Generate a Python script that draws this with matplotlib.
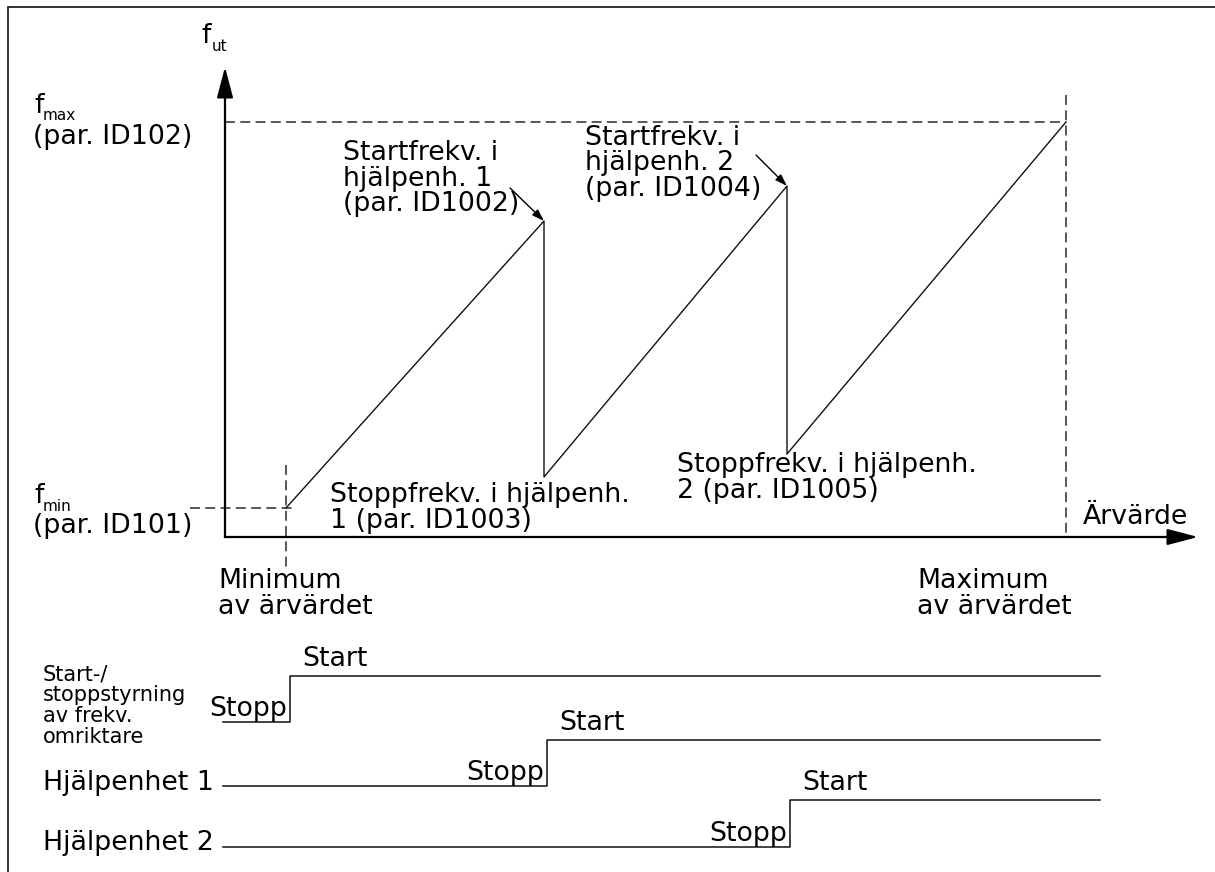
import matplotlib
matplotlib.use("Agg")
import matplotlib.pyplot as plt

plt.rcParams['font.family'] = ['DejaVu Sans']

# diagram positions (pixels, y grows downwards)
origin = (225, 537)
y_axis_top = 67
x_axis_end = 1198

f_max_y = 122
f_min_y = 508
x_min = 286
x_max = 1066

# output frequency curve: start at fmin, ramp up, drop when an aux drive starts
ramp_x = [286, 544, 544, 787, 787, 1066]
ramp_y = [508, 221, 477, 186, 454, 122]

# start/stop signals
sig_names = ["Start-/\nstoppstyrning\nav frekv.\nomriktare", "Hjälpenhet 1", "Hjälpenhet 2"]
sig_x0 = [223, 223, 223]
sig_step_x = [290, 547, 790]
sig_low = [722, 786, 847]
sig_high = [676, 740, 800]
sig_x1 = 1100

FS = 19.3
INK = '#111111'
AX = '#444444'

fig = plt.figure(figsize=(12.15, 8.72), dpi=100)
ax = fig.add_axes([0, 0, 1, 1])
ax.set_xlim(0, 1215)
ax.set_ylim(872, 0)
ax.axis('off')

# frame (cut at the right and bottom edge)
ax.plot([8, 8, 1215], [872, 7.5, 7.5], color=INK, lw=1.2, solid_joinstyle='miter')

# axes with arrow heads
arrow = dict(arrowstyle='-|>,head_length=0.95,head_width=0.25', mutation_scale=20,
             color='black', lw=1.5, shrinkA=0, shrinkB=0)
ax.annotate('', xy=(origin[0], y_axis_top), xytext=(origin[0], origin[1]), arrowprops=arrow)
ax.annotate('', xy=(x_axis_end, origin[1]), xytext=(origin[0], origin[1]), arrowprops=arrow)
ax.plot([origin[0], origin[0]], [origin[1], 90], color=AX, lw=1.6)
ax.plot([origin[0], 1175], [origin[1], origin[1]], color=AX, lw=1.6)

# guide lines
dash = dict(color='#2a2a2a', lw=1.1, dashes=(6.5, 3.5))
ax.plot([origin[0], x_max], [f_max_y, f_max_y], **dash)
ax.plot([x_max, x_max], [95, origin[1]], **dash)
ax.plot([190, 292], [f_min_y, f_min_y], **dash)
ax.plot([x_min, x_min], [465, 568], **dash)

# ramp
ax.plot(ramp_x, ramp_y, color=INK, lw=1.0)

# little arrows to the start frequencies
small = dict(arrowstyle='-|>,head_length=0.6,head_width=0.2', mutation_scale=12,
             color='black', lw=1.0, shrinkA=0, shrinkB=0)
ax.annotate('', xy=(ramp_x[1], ramp_y[1]), xytext=(510, 188), arrowprops=small)
ax.annotate('', xy=(ramp_x[3], ramp_y[3]), xytext=(756, 155), arrowprops=small)

# axis labels
ax.text(201, 43, 'f', fontsize=FS, va='baseline')
ax.text(212, 51, 'ut', fontsize=11, va='baseline')
ax.text(34, 113, 'f', fontsize=FS, va='baseline')
ax.text(43, 120, 'max', fontsize=11, va='baseline')
ax.text(33, 144, '(par. ID102)', fontsize=FS, va='baseline')
ax.text(34, 503, 'f', fontsize=FS, va='baseline')
ax.text(43, 511, 'min', fontsize=11, va='baseline')
ax.text(33, 533, '(par. ID101)', fontsize=FS, va='baseline')
ax.text(1083, 524, 'Ärvärde', fontsize=FS, va='baseline')

def lines(x, y0, rows, step=25.5, fs=FS):
    for i, r in enumerate(rows):
        ax.text(x, y0 + i * step, r, fontsize=fs, va='baseline')

lines(343, 160, ['Startfrekv. i', 'hjälpenh. 1', '(par. ID1002)'])
lines(585, 145, ['Startfrekv. i', 'hjälpenh. 2', '(par. ID1004)'])
lines(330, 502, ['Stoppfrekv. i hjälpenh.', '1 (par. ID1003)'])
lines(677, 472, ['Stoppfrekv. i hjälpenh.', '2 (par. ID1005)'])
lines(218, 588, ['Minimum', 'av ärvärdet'])
lines(917, 588, ['Maximum', 'av ärvärdet'])

# start/stop signals
for i in range(3):
    ax.plot([sig_x0[i], sig_step_x[i], sig_step_x[i], sig_x1],
            [sig_low[i], sig_low[i], sig_high[i], sig_high[i]],
            color=INK, lw=1.1)
    ax.text(sig_step_x[i] - 3, sig_low[i] - 6, 'Stopp', fontsize=FS, va='baseline', ha='right')
    ax.text(sig_step_x[i] + 12, sig_high[i] - 10, 'Start', fontsize=FS, va='baseline')

lines(43, 680, sig_names[0].split('\n'), step=21, fs=15)
ax.text(43, 790, sig_names[1], fontsize=FS, va='baseline')
ax.text(43, 850, sig_names[2], fontsize=FS, va='baseline')

fig.savefig('out.png', dpi=100)
